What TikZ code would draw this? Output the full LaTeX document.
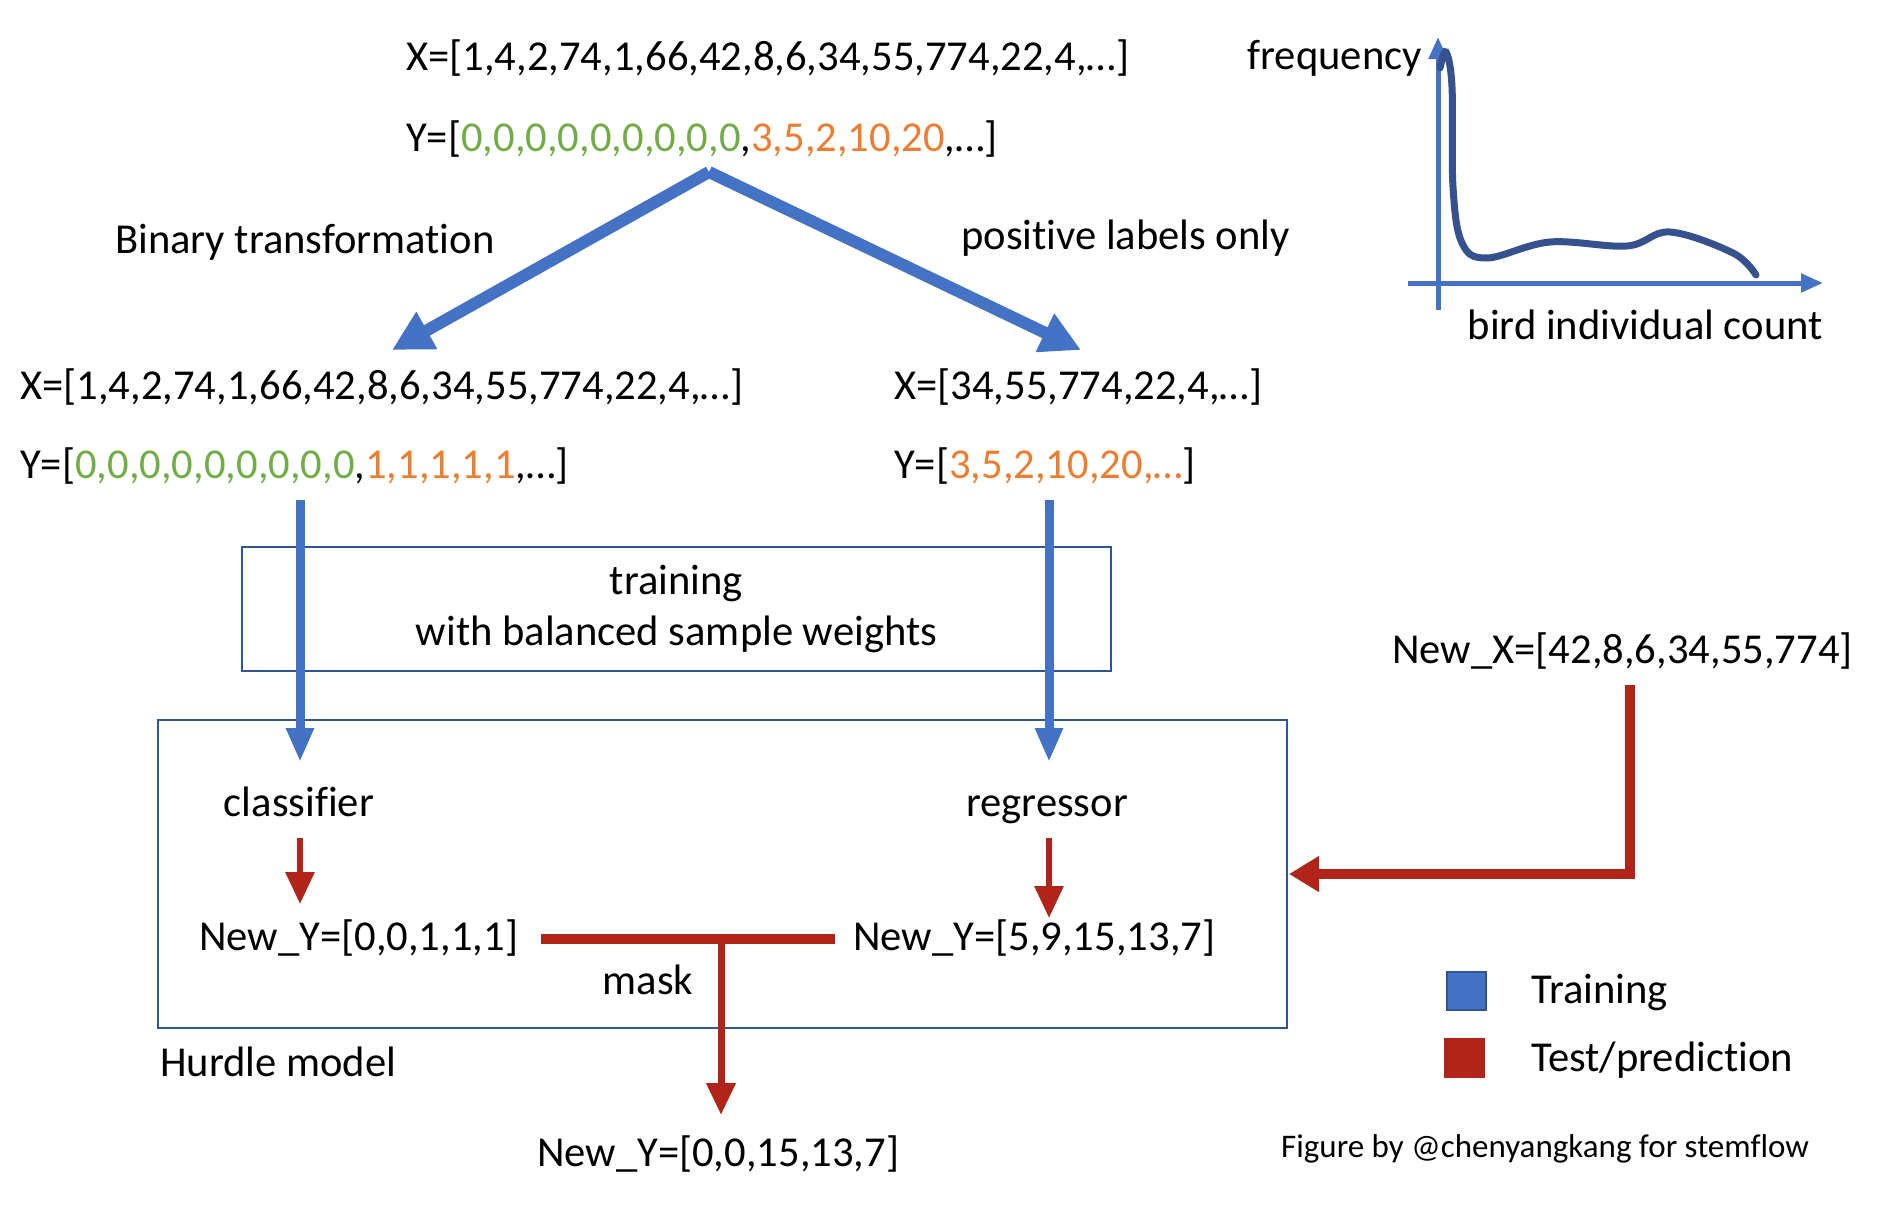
\documentclass[tikz,border=0pt]{standalone}
\usepackage{fontspec}
\setmainfont{Carlito}[Ligatures=NoCommon]
\usepackage{tikz}
\usetikzlibrary{arrows.meta,positioning,calc}

\definecolor{trainblue}{HTML}{4472C4}
\definecolor{boxblue}{HTML}{2F5597}
\definecolor{curveblue}{HTML}{35528F}
\definecolor{testred}{HTML}{B0241A}
\definecolor{zgreen}{HTML}{70AD47}
\definecolor{porange}{HTML}{ED7D31}

\newcommand{\zeros}[1]{\textcolor{zgreen}{#1}}
\newcommand{\posv}[1]{\textcolor{porange}{#1}}

\tikzset{
  lbl/.style={font=\fontsize{42.6}{51}\selectfont, inner sep=0pt},
  trainline/.style={draw=trainblue, line width=#1, -{Triangle[length=34pt,width=26pt]}},
  testline/.style={draw=testred, line width=#1, -{Triangle[length=32pt,width=28pt]}},
  frame/.style={draw=boxblue, line width=1.6pt}
}

\begin{document}
\begin{tikzpicture}[x=1pt,y=-1pt]
  \useasboundingbox (0,0) rectangle (1890,1210);

  % input data
  \node[lbl, anchor=west] (topx) at (406,58) {X=[1,4,2,74,1,66,42,8,6,34,55,774,22,4,…]};
  \node[lbl, anchor=west] (topy) at (406,139) {Y=[\zeros{0,0,0,0,0,0,0,0,0},\posv{3,5,2,10,20},…]};

  \node[lbl, anchor=west] (binary) at (115,242) {Binary transformation};
  \node[lbl, anchor=west] (positive) at (961,238) {positive labels only};

  \node[lbl, anchor=west] (leftx) at (20,387) {X=[1,4,2,74,1,66,42,8,6,34,55,774,22,4,…]};
  \node[lbl, anchor=west] (lefty) at (20,466) {Y=[\zeros{0,0,0,0,0,0,0,0,0},\posv{1,1,1,1,1},…]};
  \node[lbl, anchor=west] (rightx) at (894,387) {X=[34,55,774,22,4,…]};
  \node[lbl, anchor=west] (righty) at (894,466) {Y=[\posv{3,5,2,10,20,…}]};

  \coordinate (apex) at (709,172);
  \coordinate (lefttip) at (392,350);
  \coordinate (righttip) at (1081,350);
  \draw[trainline=12pt, line join=miter, -{Triangle[length=40pt,width=40pt]}] (apex) -- (lefttip);
  \draw[trainline=12pt, line join=miter, -{Triangle[length=40pt,width=40pt]}] (apex) -- (righttip);

  % training and model boxes
  \node[lbl, frame, align=center, minimum width=869pt, minimum height=124pt] (trainbox) at (676.5,609)
    {training\\with balanced sample weights};
  \node[frame, minimum width=1129pt, minimum height=308pt] (hurdle) at (722.5,874) {};
  \node[lbl, anchor=west] (hurdlelbl) at (160,1062) {Hurdle model};

  \node[lbl] (classifier) at (299,802) {classifier};
  \node[lbl, text depth=0pt] (regressor) at (1047,806) {regressor};
  \node[lbl, anchor=west] (newyc) at (199,938) {New\_Y=[0,0,1,1,1]};
  \node[lbl, anchor=west] (newyr) at (853,938) {New\_Y=[5,9,15,13,7]};
  \node[lbl] (mask) at (648,980) {mask};
  \node[lbl] (final) at (718,1154) {New\_Y=[0,0,15,13,7]};

  \draw[trainline=9pt] (300,500) -- (300,762);
  \draw[trainline=9pt] (1049,500) -- (1049,762);

  \draw[testline=6pt] (300,838) -- (300,904);
  \draw[testline=6pt] (1049,838) -- (1049,918);

  \coordinate (maskjoin) at (721,939);
  \draw[draw=testred, line width=10pt] (541,939) -- (835,939);
  \draw[testline=7pt] (maskjoin) -- (721,1115);

  % new data
  \node[lbl, anchor=west] (newx) at (1392,651) {New\_X=[42,8,6,34,55,774]};
  \coordinate (bend) at (1630,874);
  \draw[testline=10pt, line join=miter, -{Triangle[length=30pt,width=34pt]}] (1630,685) -- (bend) -- (1289,874);

  % legend
  \draw[fill=trainblue, draw=boxblue, line width=1.5pt] (1447,972) rectangle (1486,1010);
  \fill[testred] (1444,1038) rectangle (1485,1078);
  \node[lbl, anchor=west] (lgtrain) at (1531,992) {Training};
  \node[lbl, anchor=west] (lgtest) at (1531,1060) {Test/prediction};
  \node[lbl, anchor=west, font=\fontsize{33}{40}\selectfont] (credit) at (1281,1149) {Figure by @chenyangkang for stemflow};

  % distribution sketch
  \draw[draw=trainblue, line width=5pt, -{Triangle[length=22pt,width=18pt]}] (1438,310) -- (1438,37);
  \draw[draw=trainblue, line width=5pt, -{Triangle[length=22pt,width=18pt]}] (1408,283) -- (1823,283);
  \draw[curveblue, line width=7pt, line cap=round] plot[smooth, tension=0.6] coordinates
    {(1440,68) (1446,52) (1452,87) (1453,187) (1462,243) (1487,258) (1550,242) (1627,246) (1670,232) (1733,253) (1756,275)};
  \node[lbl, anchor=east] (freq) at (1422,58) {frequency};
  \node[lbl, anchor=east] (count) at (1823,325) {bird individual count};
\end{tikzpicture}
\end{document}
